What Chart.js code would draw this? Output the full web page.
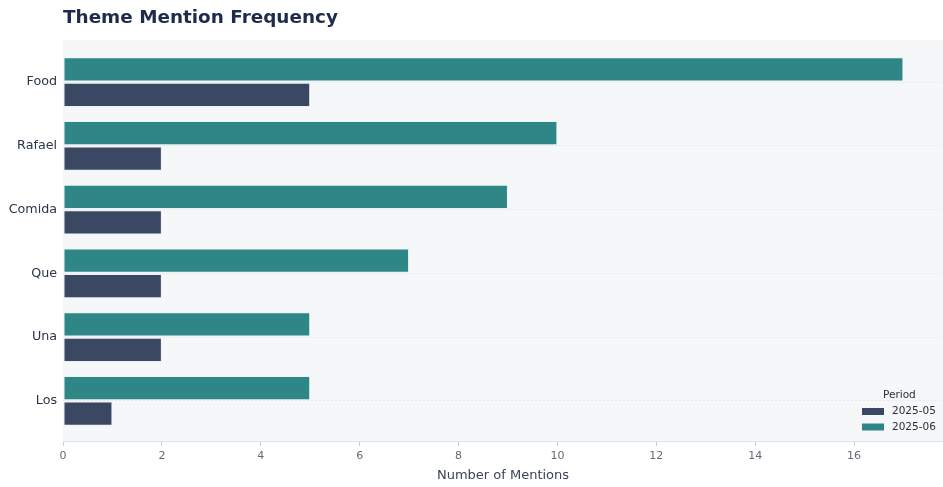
<!DOCTYPE html>
<html>
<head>
<meta charset="utf-8">
<title>Theme Mention Frequency</title>
<script src="https://cdn.jsdelivr.net/npm/chart.js@4.4.4/dist/chart.umd.min.js"></script>
<style>
  html, body { margin: 0; padding: 0; background: #ffffff; }
  #wrap { width: 943px; height: 487px; position: relative; }
</style>
</head>
<body>
<div id="wrap"><canvas id="chart"></canvas></div>
<script>
// themes, top to bottom
const themes = ['Food', 'Rafael', 'Comida', 'Que', 'Una', 'Los'];
const periods = ['2025-05', '2025-06'];
const mentionsMay = [5, 2, 2, 2, 2, 1];
const mentionsJune = [17, 10, 9, 7, 5, 5];
const xTicks = [0, 2, 4, 6, 8, 10, 12, 14, 16];

const FONT = '"DejaVu Sans", Verdana, sans-serif';
const NAVY = '#3b4863';
const TEAL = '#2e8686';

// theme index is the y value so bars sit on a linear scale with custom padding
function points(values) {
  return values.map((v, i) => ({ x: v, y: i }));
}

// grey plot background behind the bars
const plotBackground = {
  id: 'plotBackground',
  beforeDraw(chart) {
    const a = chart.chartArea;
    const ctx = chart.ctx;
    ctx.save();
    ctx.fillStyle = '#f6f7f9';
    ctx.fillRect(a.left, a.top, a.right - a.left, a.bottom - a.top);
    ctx.restore();
  }
};

// small legend in the lower-right corner of the plot, with a title
const periodLegend = {
  id: 'periodLegend',
  afterDraw(chart) {
    const ctx = chart.ctx;
    const x = 862, titleY = 395, rowY = [411.5, 427];
    ctx.save();
    ctx.font = '10.5px ' + FONT;
    ctx.textBaseline = 'middle';
    ctx.fillStyle = '#2a2f3a';
    ctx.fillText('Period', 883, titleY);
    // legend rows in period order (May first)
    periods.forEach((label, row) => {
      const ds = chart.data.datasets.find(d => d.label === label);
      ctx.fillStyle = ds.backgroundColor;
      ctx.fillRect(x, rowY[row] - 3.5, 22, 7);
      ctx.fillStyle = '#2a2f3a';
      ctx.fillText(ds.label, 892, rowY[row]);
    });
    ctx.restore();
  }
};

new Chart(document.getElementById('chart'), {
  type: 'bar',
  data: {
    datasets: [
      {
        label: periods[1],
        data: points(mentionsJune),
        backgroundColor: TEAL,
        borderColor: 'rgba(230,244,242,0.9)',
        borderWidth: 1,
        borderSkipped: false
      },
      {
        label: periods[0],
        data: points(mentionsMay),
        backgroundColor: NAVY,
        borderColor: 'rgba(235,238,244,0.9)',
        borderWidth: 1,
        borderSkipped: false
      }
    ]
  },
  options: {
    indexAxis: 'y',
    responsive: true,
    maintainAspectRatio: false,
    animation: false,
    categoryPercentage: 0.8,
    barPercentage: 0.95,
    layout: { padding: 0 },
    plugins: {
      legend: { display: false },
      tooltip: { enabled: false },
      title: {
        display: true,
        text: 'Theme Mention Frequency',
        align: 'start',
        fullSize: false,
        color: '#1f2b4d',
        font: { family: FONT, size: 18.4, weight: 'bold', lineHeight: 1.2 },
        padding: { top: 7, bottom: 10.9 }
      }
    },
    scales: {
      x: {
        type: 'linear',
        min: 0,
        max: 17.8,
        afterBuildTicks: s => { s.ticks = xTicks.map(v => ({ value: v })); },
        grid: {
          drawOnChartArea: false,
          drawTicks: true,
          tickLength: 5,
          color: '#c9ced8'
        },
        border: { display: true, color: '#dde1e8', width: 1 },
        ticks: {
          color: '#646b78',
          font: { family: FONT, size: 11 },
          padding: 4,
          maxRotation: 0
        },
        title: {
          display: true,
          text: 'Number of Mentions',
          color: '#3a4456',
          font: { family: FONT, size: 13 },
          padding: { top: 3, bottom: 4 }
        },
        afterFit: s => { s.height = 46; }
      },
      y: {
        type: 'linear',
        reverse: true,
        offset: false,
        min: -0.66,
        max: 5.63,
        afterBuildTicks: s => { s.ticks = themes.map((_, i) => ({ value: i })); },
        grid: {
          offset: false,
          drawTicks: false,
          color: '#e6e9ee',
          lineWidth: 1
        },
        border: { display: false, dash: [2, 2] },
        ticks: {
          color: '#2a3547',
          font: { family: FONT, size: 12.7 },
          padding: 6,
          callback: v => themes[v]
        },
        afterFit: s => { s.width = 63; }
      }
    }
  },
  plugins: [plotBackground, periodLegend]
});
</script>
</body>
</html>
